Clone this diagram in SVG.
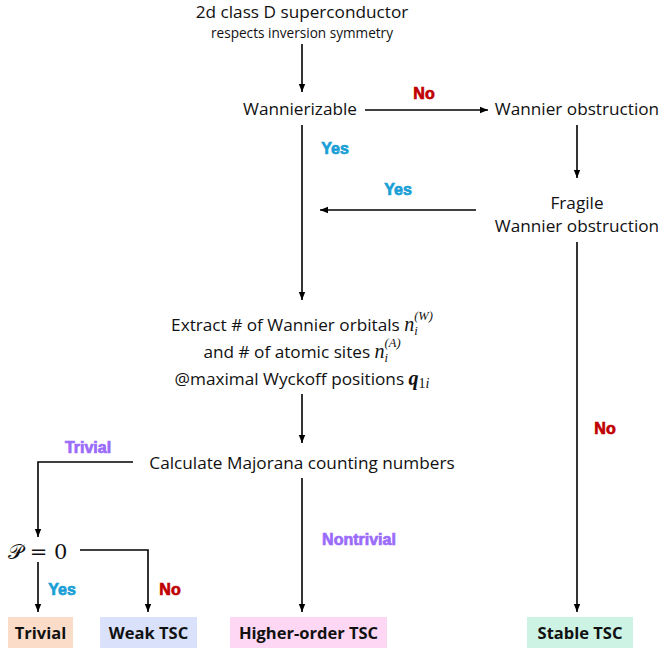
<svg xmlns="http://www.w3.org/2000/svg" width="662" height="654" viewBox="0 0 662 654">
<style>
.t{font-family:"Open Sans","Liberation Sans",sans-serif;font-size:17.2px;fill:#111;text-anchor:middle}
.s{font-size:13.6px}
.m{font-family:"Liberation Serif","DejaVu Serif",serif;font-style:italic}
.lab{font-family:"Liberation Sans",Arial,sans-serif;font-weight:bold;font-size:16px;text-anchor:middle;stroke-width:0.7}
.no{fill:#c00000;stroke:#c00000}.yes{fill:#1a9fd6;stroke:#1a9fd6}.pur{fill:#9b6bfb;stroke:#9b6bfb}
.b{font-family:"Open Sans","Liberation Sans",sans-serif;font-weight:bold;font-size:16.5px;fill:#111;text-anchor:middle}
.ln{stroke:#000;stroke-width:1.6;fill:none}
</style>
<defs>
<marker id="ah" viewBox="0 0 10 10" refX="10" refY="5" markerWidth="5" markerHeight="5" orient="auto"><path d="M0,1 L10,5 L0,9 z" fill="#000"/></marker>
</defs>
<g id="connectors">
<path class="ln" d="M302,44 V92" marker-end="url(#ah)"/>
<path class="ln" d="M365,110 H488" marker-end="url(#ah)"/>
<path class="ln" d="M577,125 V178" marker-end="url(#ah)"/>
<path class="ln" d="M476,210 H320" marker-end="url(#ah)"/>
<path class="ln" d="M302,125 V300" marker-end="url(#ah)"/>
<path class="ln" d="M302,394 V443" marker-end="url(#ah)"/>
<path class="ln" d="M133,462 H38 V537" marker-end="url(#ah)"/>
<path class="ln" d="M80,550 H148 V612" marker-end="url(#ah)"/>
<path class="ln" d="M38,562 V612" marker-end="url(#ah)"/>
<path class="ln" d="M302,478 V612" marker-end="url(#ah)"/>
<path class="ln" d="M577,242 V612" marker-end="url(#ah)"/>
<text class="lab no" x="424" y="99">No</text>
<text class="lab yes" x="335" y="154">Yes</text>
<text class="lab yes" x="398" y="195">Yes</text>
<text class="lab no" x="605" y="434">No</text>
<text class="lab pur" x="88" y="453">Trivial</text>
<text class="lab pur" x="359" y="545">Nontrivial</text>
<text class="lab yes" x="62" y="595">Yes</text>
<text class="lab no" x="170" y="595">No</text>
</g>
<g id="start"><text class="t" x="302" y="17.5">2d class D superconductor</text><text class="t s" x="302" y="38">respects inversion symmetry</text></g>
<g id="wannierizable"><text class="t" x="300" y="115">Wannierizable</text></g>
<g id="obstruction"><text class="t" x="577" y="115">Wannier obstruction</text></g>
<g id="fragile"><text class="t" x="577" y="209">Fragile</text><text class="t" x="577" y="232">Wannier obstruction</text></g>
<g id="extract">
<text class="t" x="302" y="331">Extract # of Wannier orbitals <tspan class="m" font-size="20">n</tspan><tspan class="m" font-size="12.5" dy="4">i</tspan><tspan class="m" font-size="12.5" dx="-3.5" dy="-15">(W)</tspan></text>
<text class="t" x="302" y="358">and # of atomic sites <tspan class="m" font-size="20">n</tspan><tspan class="m" font-size="12.5" dy="4">i</tspan><tspan class="m" font-size="12.5" dx="-3.5" dy="-15">(A)</tspan></text>
<text class="t" x="302" y="385">@maximal Wyckoff positions <tspan class="m" font-weight="bold" font-size="20">q</tspan><tspan font-family="Liberation Serif,serif" font-size="14" dy="3">1</tspan><tspan class="m" font-size="14">i</tspan></text>
</g>
<g id="majorana"><text class="t" x="302" y="469">Calculate Majorana counting numbers</text></g>
<g id="p0"><text x="8" y="559" font-family="DejaVu Serif,Liberation Serif,serif" font-size="21" fill="#111">𝒫 = 0</text></g>
<g id="trivial"><rect x="8" y="617" width="65" height="31" fill="#fbdcc8"/><text class="b" x="40.5" y="638.5">Trivial</text></g>
<g id="weak"><rect x="100" y="617" width="97" height="31" fill="#d9e1fb"/><text class="b" x="148.5" y="638.5">Weak TSC</text></g>
<g id="higher"><rect x="230" y="617" width="157" height="31" fill="#fdd7f3"/><text class="b" x="308.5" y="638.5">Higher-order TSC</text></g>
<g id="stable"><rect x="527" y="617" width="106" height="31" fill="#cdf3e5"/><text class="b" x="580" y="638.5">Stable TSC</text></g>
</svg>
